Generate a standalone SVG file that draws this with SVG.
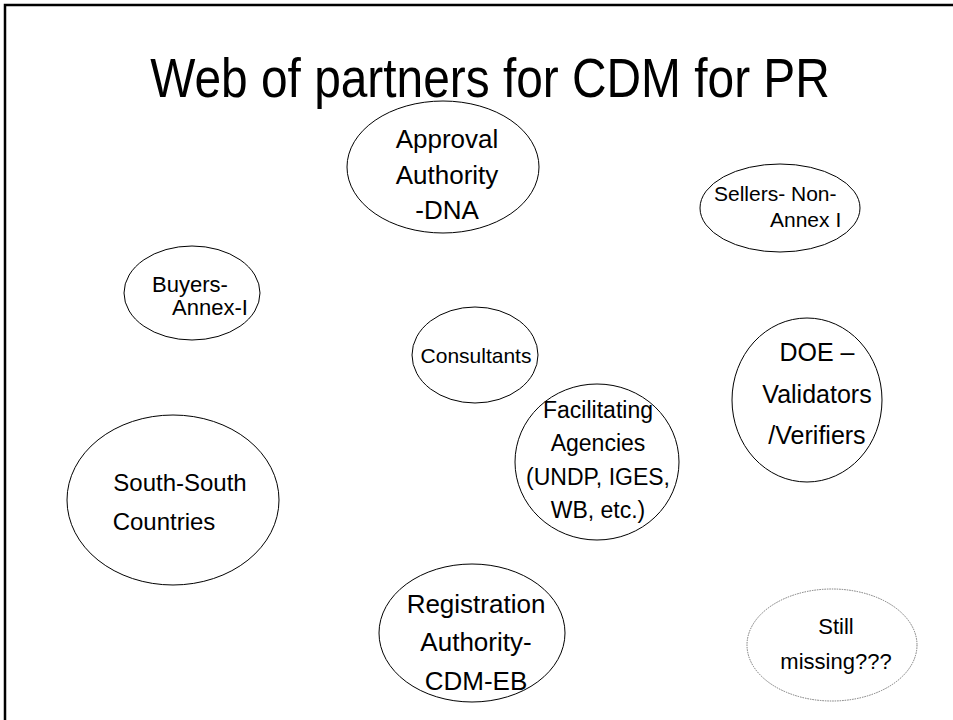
<svg xmlns="http://www.w3.org/2000/svg" width="953" height="720" viewBox="0 0 953 720">
<style>
.n{fill:none;stroke:#000;stroke-width:1}
.d{fill:none;stroke:#777;stroke-width:1;stroke-dasharray:1.5 1}
text{font-family:"Liberation Sans",Arial,sans-serif;fill:#000}
.c{text-anchor:middle}
</style>
<rect x="5" y="5" width="970" height="740" fill="#fff" stroke="#000" stroke-width="2.5"/>
<text class="c" transform="translate(490,97) scale(0.87,1)" font-size="55">Web of partners for CDM for PR</text>
<g id="approval" font-size="26"><ellipse class="n" cx="443" cy="167" rx="96" ry="66"/>
<text class="c" x="447" y="148">Approval</text><text class="c" x="447" y="184">Authority</text><text class="c" x="447" y="219">-DNA</text></g>
<g id="sellers" font-size="21"><ellipse class="n" cx="780" cy="208" rx="80" ry="44"/>
<text x="714" y="201">Sellers- Non-</text><text x="770" y="227">Annex I</text></g>
<g id="buyers" font-size="22"><ellipse class="n" cx="192" cy="293" rx="68" ry="47"/>
<text x="152" y="292">Buyers-</text><text x="172" y="315">Annex-I</text></g>
<g id="consultants" font-size="21"><ellipse class="n" cx="475" cy="355" rx="63" ry="48"/>
<text class="c" x="476" y="363">Consultants</text></g>
<g id="doe" font-size="25"><ellipse class="n" cx="807" cy="400" rx="75" ry="82"/>
<text class="c" x="817" y="361">DOE –</text><text class="c" x="817" y="403">Validators</text><text class="c" x="817" y="444">/Verifiers</text></g>
<g id="facilitating" font-size="23"><ellipse class="n" cx="597" cy="462" rx="82" ry="78"/>
<text class="c" x="598" y="418">Facilitating</text><text class="c" x="598" y="451">Agencies</text><text class="c" x="598" y="485">(UNDP, IGES,</text><text class="c" x="598" y="518">WB, etc.)</text></g>
<g id="southsouth" font-size="24"><ellipse class="n" cx="173" cy="500" rx="106" ry="85"/>
<text class="c" x="180" y="491">South-South</text><text class="c" x="164" y="530">Countries</text></g>
<g id="registration" font-size="26"><ellipse class="n" cx="472" cy="633" rx="93" ry="69"/>
<text class="c" x="476" y="613">Registration</text><text class="c" x="476" y="651">Authority-</text><text class="c" x="476" y="690">CDM-EB</text></g>
<g id="missing" font-size="22"><ellipse class="d" cx="832" cy="645" rx="85" ry="56"/>
<text class="c" x="836" y="634">Still</text><text class="c" x="836" y="669">missing???</text></g>
<g id="connectors"></g>
</svg>
